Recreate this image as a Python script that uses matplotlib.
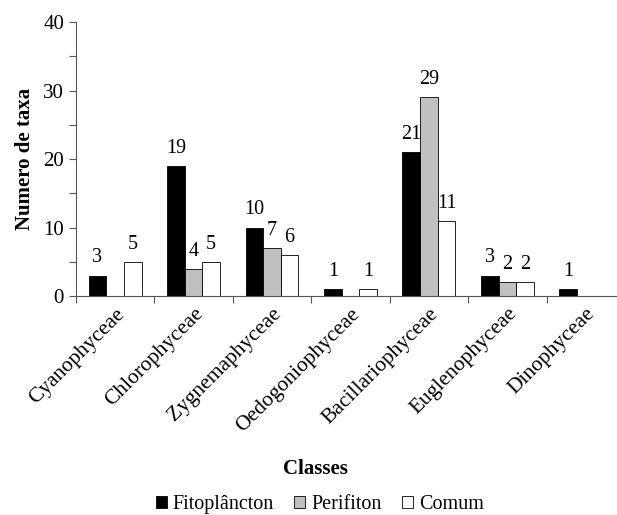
import numpy as np
import matplotlib.pyplot as plt
from matplotlib.patches import Patch

classes = ['Cyanophyceae', 'Chlorophyceae', 'Zygnemaphyceae', 'Oedogoniophyceae',
           'Bacillariophyceae', 'Euglenophyceae', 'Dinophyceae']
fitoplancton = [3, 19, 10, 1, 21, 3, 1]
perifiton = [0, 4, 7, 0, 29, 2, 0]
comum = [5, 5, 6, 1, 11, 2, 0]

series = [('Fitoplâncton', fitoplancton, 'black'),
          ('Perifiton', perifiton, '#c0c0c0'),
          ('Comum', comum, 'white')]

plt.rcParams['font.family'] = ['Liberation Serif', 'DejaVu Serif']

fig = plt.figure(figsize=(6.17, 5.15), dpi=100)
ax = fig.add_axes([0.123, 0.425, 0.89, 0.532])

x = np.arange(len(classes))
w = 0.225
for i, (name, vals, col) in enumerate(series):
    pos = x + (i - 1) * w
    ax.bar(pos, vals, width=w, color=col, edgecolor='black', linewidth=0.6)
    for p, v in zip(pos, vals):
        if v > 0:
            ax.text(p, v + 1.2, str(v), ha='center', va='bottom', fontsize=14.5)

ax.set_xlim(-0.5, len(classes) - 0.5)
ax.set_ylim(0, 40)
ax.set_yticks([0, 10, 20, 30, 40])
ax.set_yticks([5, 15, 25, 35], minor=True)
ax.tick_params(axis='y', which='both', direction='out', length=5, width=0.8,
               color='#555555', labelsize=15)
ax.set_xticks(x)
ax.set_xticklabels(classes, rotation=45, ha='right', rotation_mode='anchor', fontsize=15.5)
ax.tick_params(axis='x', which='major', length=0, pad=6)
ax.set_xticks(np.arange(-0.5, len(classes)), minor=True)
ax.tick_params(axis='x', which='minor', direction='out', length=5, width=0.8, color='#555555')

for s in ['top', 'right']:
    ax.spines[s].set_visible(False)
for s in ['left', 'bottom']:
    ax.spines[s].set_color('#555555')
    ax.spines[s].set_linewidth(0.8)

ax.set_ylabel('Numero de taxa', fontsize=15, fontweight='bold', labelpad=6)
fig.text(0.512, 0.09, 'Classes', ha='center', va='center', fontsize=15, fontweight='bold')

handles = [Patch(facecolor=col, edgecolor='black', linewidth=0.6) for _, _, col in series]
fig.legend(handles, [s[0] for s in series], loc='center', bbox_to_anchor=(0.518, 0.02),
           ncol=3, frameon=False, fontsize=14.5, handlelength=0.55, handleheight=0.55,
           handletextpad=0.3, columnspacing=1.0)

fig.savefig('out.png', dpi=100)
